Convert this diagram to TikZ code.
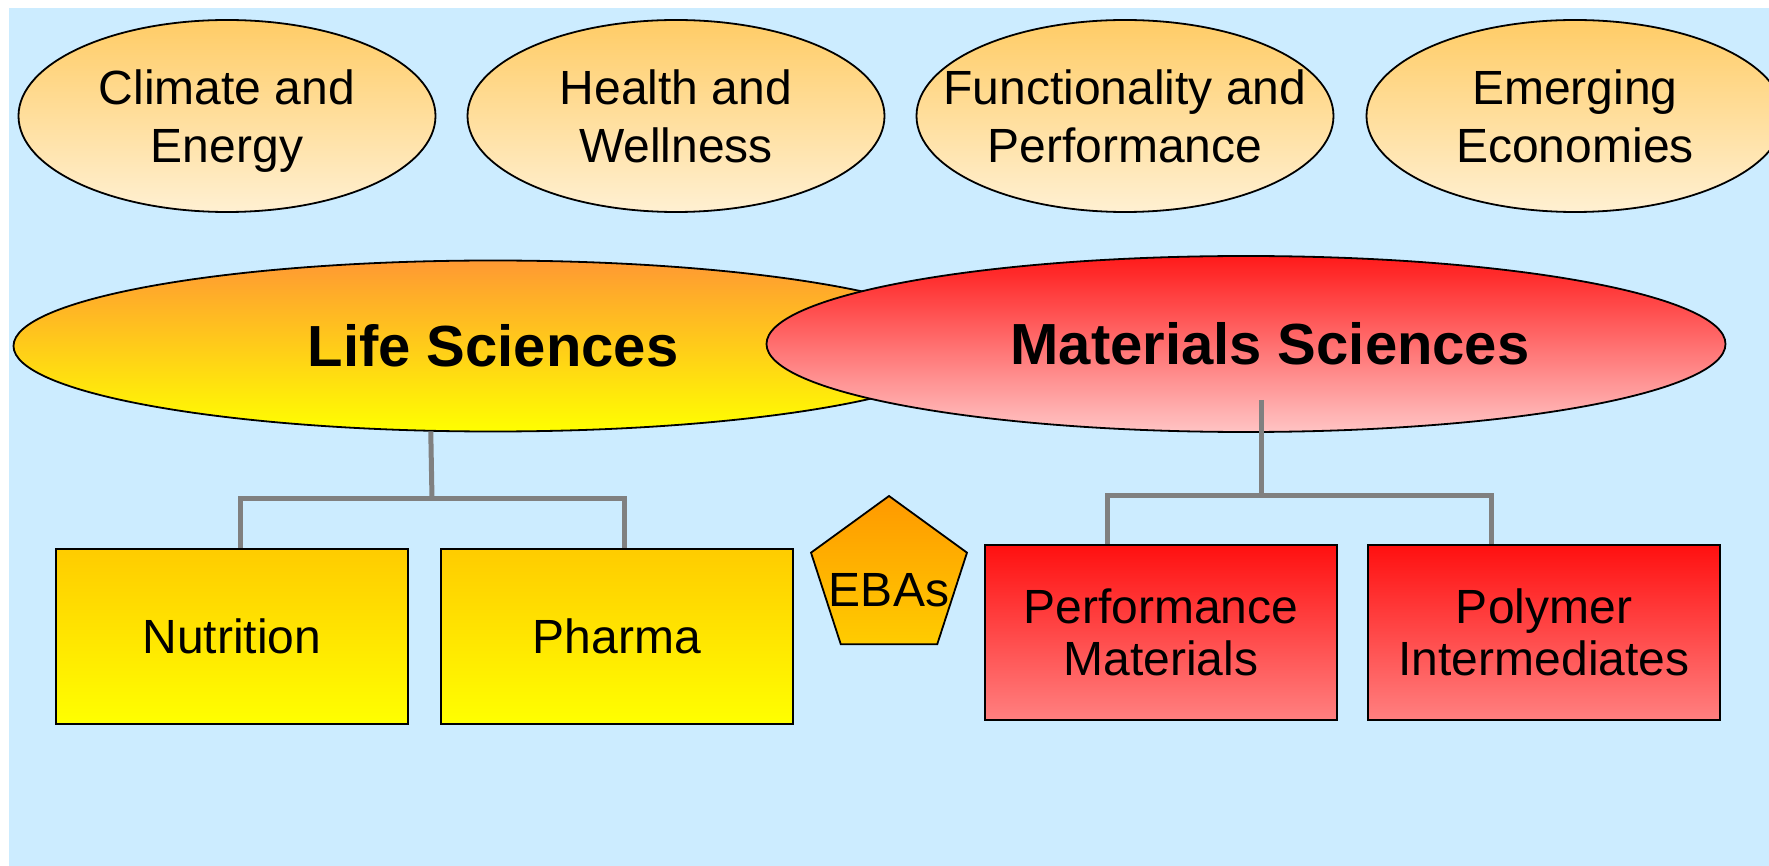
\documentclass[tikz,border=0pt]{standalone}
\usepackage{fontspec}
\setmainfont{Liberation Sans}
\usetikzlibrary{shapes.geometric}
\definecolor{bgblue}{HTML}{CCECFF}
\definecolor{peachtop}{HTML}{FFCC66}
\definecolor{peachbot}{HTML}{FFF0D2}
\definecolor{lifetop}{HTML}{FF9933}
\definecolor{lifebot}{HTML}{FFFF00}
\definecolor{mattop}{HTML}{FF1A1A}
\definecolor{matbot}{HTML}{FFC4C4}
\definecolor{yeltop}{HTML}{FFCC00}
\definecolor{yelbot}{HTML}{FFFF00}
\definecolor{redtop}{HTML}{FF1010}
\definecolor{redbot}{HTML}{FF8080}
\definecolor{ebatop}{HTML}{FF9900}
\definecolor{ebabot}{HTML}{FFCC00}
\definecolor{conngray}{HTML}{808080}

\begin{document}
\begin{tikzpicture}[x=0.5pt, y=-0.5pt,
    every node/.style={inner sep=0, align=center, font=\fontsize{24}{28}\selectfont},
    theme/.style={ellipse, draw, line width=0.9pt, top color=peachtop, bottom color=peachbot,
      minimum width=208.5pt, minimum height=96pt, inner xsep=-60pt, text depth=0pt,
      font=\fontsize{24}{29}\selectfont},
    sector/.style={ellipse, draw, line width=0.9pt, minimum width=479.5pt,
      font=\fontsize{29}{33}\selectfont\bfseries},
    unitbox/.style={rectangle, draw, line width=0.8pt, minimum width=176pt, minimum height=87.5pt,
      font=\fontsize{24}{26}\selectfont},
    conn/.style={draw=conngray, line width=2.5pt}]
  \useasboundingbox (0,0) rectangle (1769,866);
  \fill[bgblue] (9,8) rectangle (1769,866);

  \node[theme] (climate) at (227,116) {Climate and\\Energy};
  \node[theme] (health) at (676,116) {Health and\\Wellness};
  \node[theme] (func) at (1125,116) {Functionality and\\Performance};
  \node[theme] (emerg) at (1575,116) {Emerging\\Economies};

  \node[sector, minimum height=85.5pt, top color=lifetop, bottom color=lifebot] (life) at (493,346) {Life Sciences};
  \node[sector, minimum height=88pt, top color=mattop, bottom color=matbot] (mat) at (1246,344) {\hspace*{24pt}Materials Sciences};

  \node[unitbox, top color=yeltop, bottom color=yelbot] (nutr) at (232,636.5) {Nutrition};
  \node[unitbox, top color=yeltop, bottom color=yelbot] (pharma) at (617,636.5) {Pharma};
  \node[regular polygon, regular polygon sides=5, minimum size=82pt, inner sep=-20pt, draw, line width=0.9pt,
    text height=28pt, text depth=0pt, top color=ebatop, bottom color=ebabot] (ebas) at (889,578) {EBAs};
  \node[unitbox, top color=redtop, bottom color=redbot] (perf) at (1161,632.5) {Performance\\Materials};
  \node[unitbox, top color=redtop, bottom color=redbot] (poly) at (1544,632.5) {Polymer\\Intermediates};

  \coordinate (lsbar) at (432,499);
  \coordinate (msstart) at (1261,400);
  \coordinate (msbar) at (1261,496);
  \draw[conn] (life.234) -- (lsbar);
  \draw[conn] (lsbar) -| ([xshift=4pt]nutr.north);
  \draw[conn] (lsbar) -| ([xshift=3.5pt]pharma.north);
  \draw[conn] (msstart) -- (msbar);
  \draw[conn] (msbar) -| ([xshift=-27pt]perf.north);
  \draw[conn] (msbar) -| ([xshift=-26.5pt]poly.north);
\end{tikzpicture}
\end{document}
